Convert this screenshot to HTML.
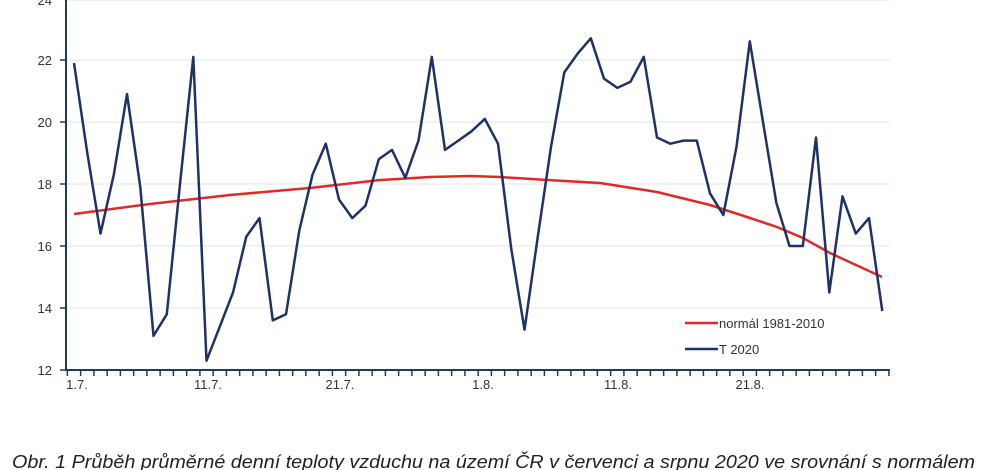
<!DOCTYPE html>
<html><head><meta charset="utf-8"><style>
html,body{margin:0;padding:0;background:#fff;width:1000px;height:470px;overflow:hidden}
svg{display:block}
</style></head><body>
<svg width="1000" height="470" xmlns="http://www.w3.org/2000/svg" font-family="Liberation Sans, sans-serif">
<g stroke="#dde8ee" stroke-width="1">
<line x1="67" y1="0" x2="890" y2="0"/>
<line x1="67" y1="60" x2="890" y2="60"/>
<line x1="67" y1="122" x2="890" y2="122"/>
<line x1="67" y1="184" x2="890" y2="184"/>
<line x1="67" y1="246" x2="890" y2="246"/>
<line x1="67" y1="308" x2="890" y2="308"/>
</g>
<g font-size="13" fill="#333" text-anchor="end">
<text x="52" y="5">24</text>
<text x="52" y="65">22</text>
<text x="52" y="127">20</text>
<text x="52" y="189">18</text>
<text x="52" y="251">16</text>
<text x="52" y="313">14</text>
<text x="52" y="375">12</text>
</g>
<g stroke="#1f3864" stroke-width="2" fill="none">
<line x1="66" y1="0" x2="66" y2="371"/>
<line x1="65" y1="370" x2="890" y2="370"/>
</g>
<g id="tk" stroke="#1f3864" stroke-width="1.5"></g>
<g font-size="13" fill="#333" text-anchor="middle">
<text x="77" y="389">1.7.</text>
<text x="208" y="389">11.7.</text>
<text x="340" y="389">21.7.</text>
<text x="483" y="389">1.8.</text>
<text x="618" y="389">11.8.</text>
<text x="750" y="389">21.8.</text>
</g>
<polyline fill="none" stroke="#e02a2a" stroke-width="2.5" points="74,214 150,204 230,195 310,188 380,180 430,177 470,176 500,177 547,180 600,183 657,192 710,205 747,217 777,227 803,238 830,253 856,265 882,277"/>
<polyline id="t" fill="none" stroke="#1f3267" stroke-width="2.5" stroke-linejoin="round" points=""/>
<line x1="685" y1="323" x2="718" y2="323" stroke="#e02a2a" stroke-width="2.5"/>
<text x="719" y="328" font-size="13" fill="#333">normál 1981-2010</text>
<line x1="685" y1="349" x2="718" y2="349" stroke="#1f3267" stroke-width="2.5"/>
<text x="719" y="354" font-size="13" fill="#333">T 2020</text>
<text x="12" y="468" font-size="18" font-style="italic" fill="#222" textLength="963" lengthAdjust="spacingAndGlyphs">Obr. 1 Průběh průměrné denní teploty vzduchu na území ČR v červenci a srpnu 2020 ve srovnání s normálem</text>
</svg>
<script>
var v=[21.9,19.0,16.4,18.3,20.9,17.9,13.1,13.8,18.0,22.1,12.3,13.4,14.5,16.3,16.9,13.6,13.8,16.5,18.3,19.3,17.5,16.9,17.3,18.8,19.1,18.2,19.4,22.1,19.1,19.4,19.7,20.1,19.3,15.9,13.3,16.3,19.2,21.6,22.2,22.7,21.4,21.1,21.3,22.1,19.5,19.3,19.4,19.4,17.7,17.0,19.2,22.6,20.0,17.4,16.0,16.0,19.5,14.5,17.6,16.4,16.9,13.9];
var p=v.map(function(d,i){return (74+13.25*i).toFixed(1)+','+(370-(d-12)*31).toFixed(1)}).join(' ');
document.getElementById('t').setAttribute('points',p);
var g=document.getElementById('tk'),s='';
for(var k=0;k<=62;k++){var x=67.4+13.25*k;s+='<line x1="'+x+'" y1="370" x2="'+x+'" y2="376"/>';}
for(var k=0;k<=6;k++){var y=370-62*k;s+='<line x1="60" y1="'+y+'" x2="66" y2="'+y+'"/>';}
g.innerHTML=s;
</script>
</body></html>
